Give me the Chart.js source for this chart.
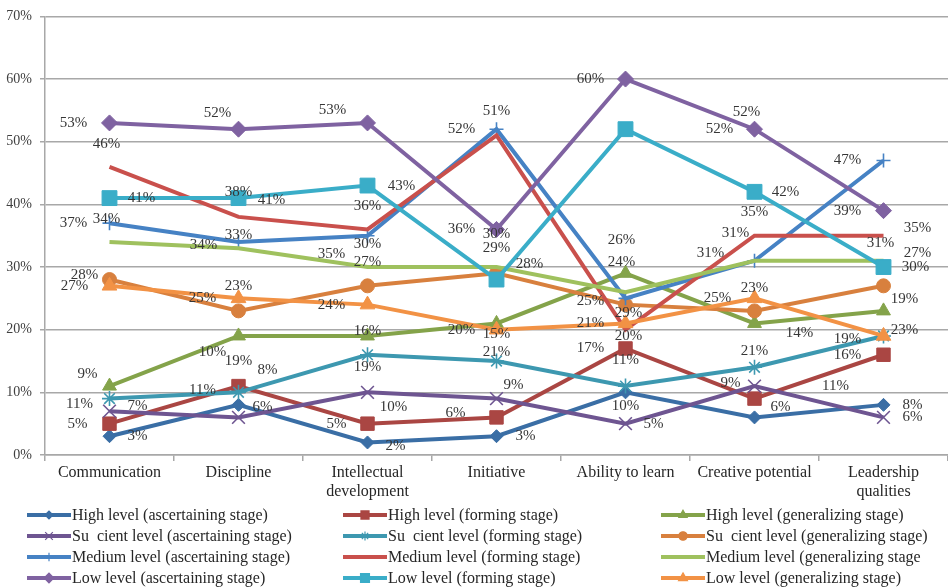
<!DOCTYPE html>
<html>
<head>
<meta charset="utf-8">
<script src="https://cdn.jsdelivr.net/npm/chart.js@4.4.1/dist/chart.umd.min.js"></script>
<style>
  html, body { margin: 0; padding: 0; background: #fff; }
  #wrap { width: 948px; height: 587px; position: relative; }
</style>
</head>
<body>
<div id="wrap"><canvas id="levels-chart"></canvas></div>
<script>
// categories along the x axis
const categories = [
    "Communication", "Discipline", ["Intellectual", "development"], "Initiative",
    "Ability to learn", "Creative potential", ["Leadership", "qualities"]
];

// percentages per level and stage
const highAscertaining       = [3, 8, 2, 3, 10, 6, 8];
const highForming            = [5, 11, 5, 6, 17, 9, 16];
const highGeneralizing       = [11, 19, 19, 21, 29, 21, 23];
const sufficientAscertaining = [7, 6, 10, 9, 5, 11, 6];
const sufficientForming      = [9, 10, 16, 15, 11, 14, 19];
const sufficientGeneralizing = [28, 23, 27, 29, 24, 23, 27];
const mediumAscertaining     = [37, 34, 35, 52, 25, 31, 47];
const mediumForming          = [46, 38, 36, 51, 20, 35, 35];
const mediumGeneralizing     = [34, 33, 30, 30, 26, 31, 31];
const lowAscertaining        = [53, 52, 53, 36, 60, 52, 39];
const lowForming             = [41, 41, 43, 28, 52, 42, 30];
const lowGeneralizing        = [27, 25, 24, 20, 21, 25, 19];

// y axis ticks
const yTicks = [0, 10, 20, 30, 40, 50, 60, 70];

const seriesNames = [
    "High level (ascertaining stage)", "High level (forming stage)", "High level (generalizing stage)",
    "Su  cient level (ascertaining stage)", "Su  cient level (forming stage)", "Su  cient level (generalizing stage)",
    "Medium level (ascertaining stage)", "Medium level (forming stage)", "Medium level (generalizing stage",
    "Low level (ascertaining stage)", "Low level (forming stage)", "Low level (generalizing stage)"
];
const seriesValues = [
    highAscertaining, highForming, highGeneralizing,
    sufficientAscertaining, sufficientForming, sufficientGeneralizing,
    mediumAscertaining, mediumForming, mediumGeneralizing,
    lowAscertaining, lowForming, lowGeneralizing
];

// look of each line
const styles = [
    { color: "#3A6EA5", point: "rectRot",  radius: 6.5 },
    { color: "#AA4643", point: "rect",     radius: 9.5 },
    { color: "#84A34A", point: "triangle", radius: 8 },
    { color: "#6E5591", point: "crossRot", radius: 9 },
    { color: "#3D98B0", point: "star",     radius: 7.5 },
    { color: "#D8803E", point: "circle",   radius: 7 },
    { color: "#4682C4", point: "cross",    radius: 7 },
    { color: "#C9504C", point: false,      radius: 0 },
    { color: "#9FC15E", point: false,      radius: 0 },
    { color: "#7F62A1", point: "rectRot",  radius: 8 },
    { color: "#3AADC8", point: "rect",     radius: 10.5 },
    { color: "#F29245", point: "triangle", radius: 8.5 }
];

// where each value label sits relative to its point (dx, dy)
const labelShift = [
    [[28, 0], [29, -35], [28, 4], [29, 0], [0, 14], [26, -10], [29, 0]],
    [[-32, 0], [-36, 4], [-31, 0], [-41, -4], [-35, 0], [-24, -16], [-36, 0]],
    [[-30, 18], [0, 25], [0, 31], [0, 29], [3, 40], [0, 28], [21, 19]],
    [[28, -5], [24, -10], [26, 15], [17, -14], [28, 0], [81, 0], [29, 0]],
    [[-22, -25], [-26, -40], [0, -24], [0, -27], [0, -26], [45, -34], [-36, 3]],
    [[-25, -4], [0, -25], [0, -24], [0, -25], [-4, -43], [0, -23], [34, -33]],
    [[-36, 0], [-35, 3], [-36, 18], [-35, 0], [-35, 3], [-44, -8], [-36, 0]],
    [[-3, -23], [0, -25], [0, -23], [0, -24], [3, 6], [0, -24], [34, -8]],
    [[-3, -23], [0, -13], [0, -23], [0, -33], [-4, -52], [-19, -28], [-3, -18]],
    [[-36, 0], [-21, -16], [-35, -13], [-35, 0], [-35, 0], [-8, -17], [-36, 0]],
    [[32, 0], [33, 2], [34, 0], [33, -15], [94, 0], [31, 0], [32, 0]],
    [[-35, 0], [-36, 0], [-36, 0], [-35, 0], [-35, 0], [-37, 0], [21, -37]]
];

const serif = '"Liberation Serif", "DejaVu Serif", serif';
const gridColor = "#A8A8A8";

const datasets = seriesValues.map((values, i) => ({
    label: seriesNames[i],
    data: values,
    borderColor: styles[i].color,
    backgroundColor: styles[i].color,
    borderWidth: 4,
    tension: 0,
    fill: false,
    pointStyle: styles[i].point,
    pointRadius: styles[i].radius,
    pointHoverRadius: styles[i].radius,
    pointBackgroundColor: styles[i].color,
    pointBorderColor: styles[i].color,
    pointBorderWidth: (styles[i].point === "cross" || styles[i].point === "crossRot" || styles[i].point === "star") ? 1.6 : 1,
    clip: false,
    order: seriesValues.length - i
}));

// percent labels next to the points
const valueLabels = {
    id: "valueLabels",
    afterDatasetsDraw(chart) {
        const ctx = chart.ctx;
        ctx.save();
        ctx.font = "15px " + serif;
        ctx.fillStyle = "#363636";
        ctx.textAlign = "center";
        ctx.textBaseline = "middle";
        chart.data.datasets.forEach((ds, i) => {
            const meta = chart.getDatasetMeta(i);
            meta.data.forEach((pt, j) => {
                const s = labelShift[i][j];
                ctx.fillText(ds.data[j] + "%", pt.x + s[0], pt.y + s[1]);
            });
        });
        ctx.restore();
    }
};

// three column legend under the axis
const gridLegend = {
    id: "gridLegend",
    afterDraw(chart) {
        const ctx = chart.ctx;
        const colX = [27, 343, 661];
        const rowY = [515, 536, 557, 578];
        ctx.save();
        ctx.font = "16px " + serif;
        ctx.textBaseline = "middle";
        ctx.textAlign = "left";
        chart.data.datasets.forEach((ds, i) => {
            const x = colX[i % 3];
            const y = rowY[Math.floor(i / 3)];
            ctx.strokeStyle = styles[i].color;
            ctx.fillStyle = styles[i].color;
            ctx.lineWidth = 4;
            ctx.beginPath();
            ctx.moveTo(x, y);
            ctx.lineTo(x + 44, y);
            ctx.stroke();
            if (styles[i].point) {
                ctx.lineWidth = 1.2;
                Chart.helpers.drawPoint(ctx, {
                    pointStyle: styles[i].point,
                    radius: Math.max(4, styles[i].radius * 0.6),
                    borderWidth: 1.2,
                    rotation: 0
                }, x + 22, y);
            }
            ctx.fillStyle = "#262626";
            ctx.fillText(ds.label, x + 45, y + 1);
        });
        ctx.restore();
    }
};

new Chart(document.getElementById("levels-chart"), {
    type: "line",
    data: { labels: categories, datasets: datasets },
    plugins: [valueLabels, gridLegend],
    options: {
        responsive: true,
        maintainAspectRatio: false,
        animation: false,
        layout: { autoPadding: false, padding: { top: 14, right: -3, left: 0, bottom: 0 } },
        plugins: {
            legend: { display: false },
            tooltip: { enabled: false }
        },
        scales: {
            x: {
                offset: true,
                afterFit: scale => {
                    scale.height = 132;
                    scale.paddingLeft = 0;
                    scale.paddingRight = 0;
                },
                grid: {
                    offset: true,
                    drawOnChartArea: false,
                    drawTicks: true,
                    tickLength: 6,
                    color: gridColor,
                    lineWidth: 1.5
                },
                border: { color: gridColor, width: 1.5 },
                ticks: {
                    font: { family: serif, size: 16 },
                    color: "#262626",
                    padding: 2,
                    maxRotation: 0,
                    autoSkip: false
                }
            },
            y: {
                min: yTicks[0],
                max: yTicks[yTicks.length - 1],
                afterFit: scale => { scale.width = 45; },
                afterBuildTicks: scale => { scale.ticks = yTicks.map(v => ({ value: v })); },
                grid: {
                    color: gridColor,
                    lineWidth: 1.5,
                    drawTicks: true,
                    tickLength: 5
                },
                border: { color: gridColor, width: 1.5 },
                ticks: {
                    font: { family: serif, size: 14 },
                    color: "#404040",
                    padding: 8,
                    callback: v => v + "%"
                }
            }
        }
    }
});
</script>
</body>
</html>
